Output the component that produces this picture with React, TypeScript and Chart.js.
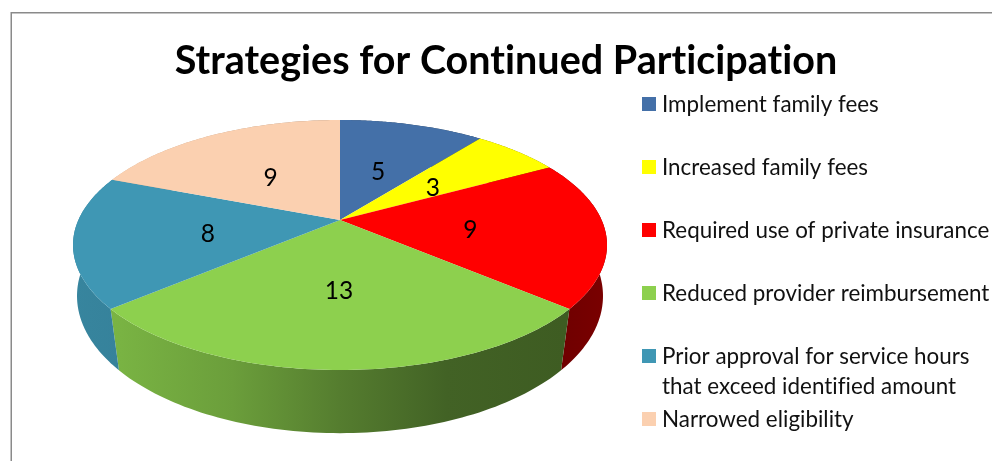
import React, { useEffect, useRef } from "react";
import { Chart, registerables } from "chart.js";

Chart.register(...registerables);

const titleText = "Strategies for Continued Participation";
const categories = [
  "Implement family fees",
  "Increased family fees",
  "Required use of private insurance",
  "Reduced provider reimbursement",
  "Prior approval for service hours|that exceed identified amount",
  "Narrowed eligibility",
];
const values = [5, 3, 9, 13, 8, 9];
const topColors = ["#4470a8", "#ffff00", "#ff0000", "#8dd04e", "#3f97b4", "#fbd0b0"];
const legendRowY = [104, 167, 230, 293, 356, 419];

const FONT = "Lato, 'Open Sans', sans-serif";
const CX = 340;
const TOP = { cy: 220, a: 120, b: 261.6, k: 0.2 };
const BOTTOM = { cy: 274, a: 133.7, b: 259.6, k: 0.16 };

function project(ang: number, f: number, g: { cy: number; a: number; b: number; k: number }) {
  const u = Math.cos(ang) * f;
  const v = Math.sin(ang) * f;
  const d = 1 - g.k * v;
  return { x: CX + (g.b * u) / d, y: g.cy + (g.a * v) / d };
}

function shade(hex: string, m: number) {
  const n = parseInt(hex.slice(1), 16);
  const r = Math.round(((n >> 16) & 255) * m);
  const g = Math.round(((n >> 8) & 255) * m);
  const b = Math.round((n & 255) * m);
  return `rgb(${r},${g},${b})`;
}

const pie3d = {
  id: "pie3d",
  beforeDraw(chart: any) {
    const ctx = chart.ctx;
    ctx.letterSpacing = "0.01px";
    ctx.save();
    ctx.strokeStyle = "#8a8a8a";
    ctx.lineWidth = 1.5;
    ctx.strokeRect(11.25, 12.75, 1200, 800);
    ctx.restore();
  },
  beforeDatasetsDraw(chart: any) {
    const ctx = chart.ctx;
    const arcs = chart.getDatasetMeta(0).data;
    const colors = chart.data.datasets[0].backgroundColor;
    const STEPS = 80;
    // side walls
    arcs.forEach((el: any, i: number) => {
      const { startAngle: s, endAngle: e } = el.getProps(["startAngle", "endAngle"], true);
      const grad = ctx.createLinearGradient(72, 0, 607, 0);
      const base = colors[i];
      grad.addColorStop(0, shade(base, 0.88));
      grad.addColorStop(0.09, shade(base, 0.86));
      grad.addColorStop(0.3, shade(base, 0.76));
      grad.addColorStop(0.5, shade(base, 0.6));
      grad.addColorStop(0.7, shade(base, 0.47));
      grad.addColorStop(0.92, shade(base, 0.44));
      grad.addColorStop(1, shade(base, 0.48));
      ctx.beginPath();
      for (let t = 0; t <= STEPS; t++) {
        const p = project(s + ((e - s) * t) / STEPS, 1, TOP);
        t === 0 ? ctx.moveTo(p.x, p.y) : ctx.lineTo(p.x, p.y);
      }
      for (let t = STEPS; t >= 0; t--) {
        const p = project(s + ((e - s) * t) / STEPS, 1, BOTTOM);
        ctx.lineTo(p.x, p.y);
      }
      ctx.closePath();
      ctx.fillStyle = grad;
      ctx.fill();
    });
    // top faces
    arcs.forEach((el: any, i: number) => {
      const { startAngle: s, endAngle: e } = el.getProps(["startAngle", "endAngle"], true);
      ctx.beginPath();
      ctx.moveTo(CX, TOP.cy);
      for (let t = 0; t <= STEPS; t++) {
        const p = project(s + ((e - s) * t) / STEPS, 1, TOP);
        ctx.lineTo(p.x, p.y);
      }
      ctx.closePath();
      ctx.fillStyle = colors[i];
      ctx.fill();
    });
    // value labels
    ctx.fillStyle = "#000";
    ctx.font = `24.5px ${FONT}`;
    ctx.textAlign = "center";
    ctx.textBaseline = "middle";
    arcs.forEach((el: any, i: number) => {
      const { startAngle: s, endAngle: e } = el.getProps(["startAngle", "endAngle"], true);
      const p = project((s + e) / 2, 0.5, TOP);
      ctx.fillText(String(chart.data.datasets[0].data[i]), p.x - 1, p.y + 4);
    });
    // legend
    ctx.textAlign = "left";
    ctx.font = `22.4px ${FONT}`;
    chart.data.labels.forEach((label: string, i: number) => {
      const y = legendRowY[i];
      ctx.fillStyle = colors[i];
      ctx.fillRect(642, y - 7, 14, 14);
      ctx.fillStyle = "#111";
      label.split("|").forEach((line: string, j: number) => {
        ctx.fillText(line, 662, y + 1 + j * 30);
      });
    });
    return false;
  },
};

export default function App() {
  const ref = useRef<HTMLCanvasElement>(null);
  useEffect(() => {
    const chart = new Chart(ref.current!, {
      type: "pie",
      data: {
        labels: categories,
        datasets: [{ data: values, backgroundColor: topColors, borderWidth: 0 }],
      },
      options: {
        responsive: false,
        animation: false,
        layout: { padding: { left: 20, top: 0, right: 0, bottom: 0 } },
        plugins: {
          legend: { display: false },
          tooltip: { enabled: false },
          title: {
            display: true,
            text: titleText,
            color: "#000",
            font: { family: FONT, size: 39.5, weight: "bold" },
            padding: { top: 38, bottom: 10 },
          },
        },
      },
      plugins: [pie3d],
    } as any);
    return () => chart.destroy();
  }, []);
  return (
    <div style={{ position: "fixed", left: 0, top: 0, width: 992, height: 461 }}>
      <canvas ref={ref} width={992} height={461} style={{ display: "block" }} />
    </div>
  );
}
